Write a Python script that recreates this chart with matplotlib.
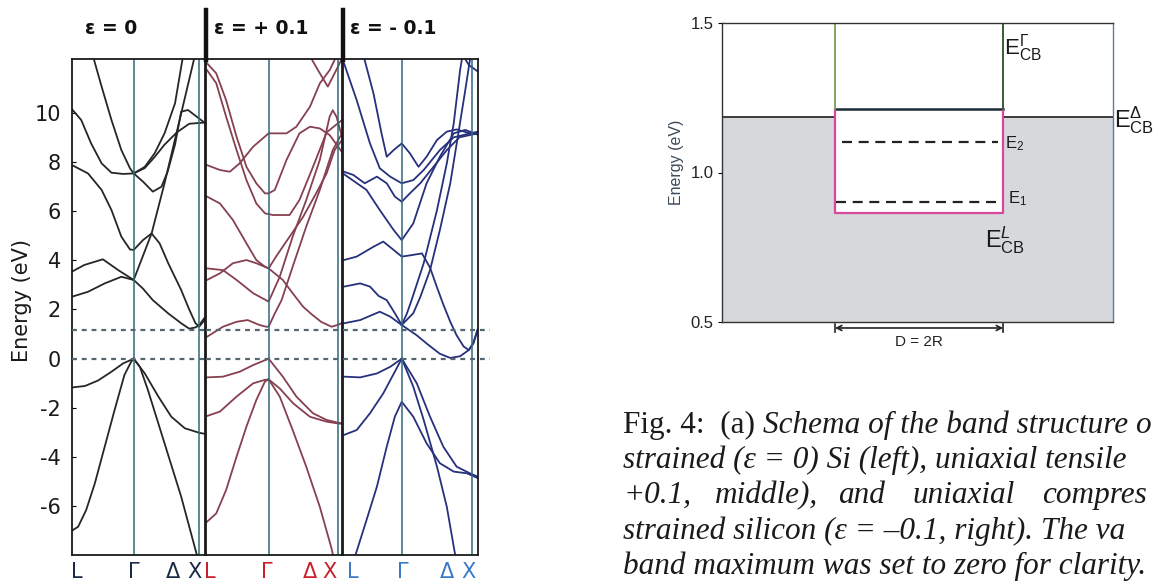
import matplotlib.pyplot as plt
from matplotlib.lines import Line2D

plt.rcParams['mathtext.fontset'] = 'custom'
plt.rcParams['mathtext.rm'] = 'Liberation Sans'
plt.rcParams['mathtext.it'] = 'Liberation Sans:italic'

# ---- band structures (energy in eV), k: L = 0, Gamma = 1, X near 2.1 ----
bands_eps0 = [
    ([0, 0.10, 0.23, 0.37, 0.53, 0.69, 0.85, 0.96, 1.0], [-6.99, -6.83, -6.15, -5.07, -3.58, -2.09, -0.66, -0.12, 0.0]),
    ([0, 0.21, 0.42, 0.64, 0.83, 1.0], [-1.17, -1.11, -0.89, -0.53, -0.19, 0.0]),
    ([1.0, 1.10, 1.23, 1.50, 1.77, 2.02, 2.08], [0.0, -0.33, -1.27, -3.44, -5.61, -7.94, -8.4]),
    ([1.0, 1.18, 1.40, 1.61, 1.83, 2.06, 2.16], [0.0, -0.60, -1.54, -2.36, -2.83, -3.01, -3.06]),
    ([0, 0.26, 0.53, 0.80, 1.0], [2.52, 2.72, 3.06, 3.33, 3.20]),
    ([0, 0.20, 0.50, 0.75, 1.0], [3.54, 3.81, 4.04, 3.60, 3.20]),
    ([1.0, 1.15, 1.31, 1.56, 1.77, 1.90, 2.00, 2.06, 2.16], [3.20, 2.85, 2.38, 1.84, 1.44, 1.22, 1.27, 1.36, 1.70]),
    ([0, 0.26, 0.48, 0.64, 0.80, 0.94, 1.0, 1.15, 1.29, 1.42, 1.56, 1.77, 1.90, 2.00, 2.06, 2.16],
     [7.87, 7.53, 6.86, 6.04, 4.96, 4.44, 4.42, 4.82, 5.09, 4.69, 3.88, 2.79, 2.00, 1.45, 1.30, 1.60]),
    ([1.0, 1.29, 1.50, 1.77, 1.99], [3.20, 5.09, 7.13, 9.97, 12.3]),
    ([0, 0.15, 0.31, 0.48, 0.64, 0.83, 1.0, 1.15, 1.31, 1.45, 1.55, 1.67, 1.77, 1.88, 2.02, 2.16],
     [10.14, 9.70, 8.75, 7.94, 7.56, 7.51, 7.53, 7.20, 6.79, 6.99, 7.60, 8.70, 10.04, 10.11, 9.84, 9.57]),
    ([0.34, 0.48, 0.64, 0.80, 0.94, 1.0, 1.18, 1.34, 1.50, 1.67, 1.80], [12.3, 11.06, 9.70, 8.48, 7.74, 7.53, 7.80, 8.35, 9.16, 10.38, 12.3]),
    ([1.0, 1.18, 1.34, 1.50, 1.70, 1.90, 2.16], [7.53, 7.75, 8.20, 8.70, 9.20, 9.55, 9.60]),
]

bands_tens = [
    ([0, 0.15, 0.31, 0.48, 0.64, 0.80, 0.94, 1.0], [-6.63, -6.29, -5.34, -3.98, -2.76, -1.68, -0.93, -0.84]),
    ([0, 0.26, 0.53, 0.75, 1.0], [-0.76, -0.73, -0.53, -0.26, 0.0]),
    ([0, 0.21, 0.48, 0.75, 0.94, 1.0], [-2.33, -2.15, -1.54, -1.00, -0.86, -0.84]),
    ([1.0, 1.18, 1.39, 1.61, 1.83, 2.02, 2.08], [-0.84, -1.54, -2.90, -4.39, -6.02, -7.71, -8.4]),
    ([1.0, 1.23, 1.45, 1.72, 1.94, 2.12, 2.19], [0.0, -0.73, -1.54, -2.22, -2.49, -2.60, -2.62]),
    ([1.0, 1.18, 1.40, 1.67, 1.94, 2.12, 2.19], [-0.84, -1.21, -1.82, -2.36, -2.56, -2.63, -2.65]),
    ([0, 0.26, 0.48, 0.66, 0.85, 0.96, 1.0, 1.10, 1.21, 1.39, 1.61, 1.83, 2.04, 2.19],
     [0.89, 1.30, 1.50, 1.57, 1.37, 1.30, 1.30, 1.84, 2.38, 3.74, 5.37, 6.86, 8.48, 9.16]),
    ([0, 0.21, 0.42, 0.64, 0.80, 1.0, 1.23, 1.39, 1.56, 1.70, 1.85, 2.02, 2.12, 2.19],
     [3.20, 3.47, 3.88, 4.01, 3.88, 3.67, 3.20, 2.66, 2.11, 1.80, 1.50, 1.30, 1.37, 1.45]),
    ([0, 0.26, 0.48, 0.75, 1.0, 1.18, 1.39, 1.61, 1.83, 1.99, 2.04, 2.10, 2.19],
     [3.67, 3.60, 3.20, 2.66, 2.32, 3.33, 4.96, 6.45, 8.08, 9.84, 10.10, 9.84, 9.02]),
    ([0, 0.15, 0.31, 0.48, 0.64, 0.80, 0.94, 1.0, 1.10, 1.29, 1.50, 1.67, 1.83, 1.99, 2.19],
     [12.01, 11.60, 10.51, 9.02, 7.80, 7.13, 6.72, 6.72, 6.86, 8.08, 9.16, 9.43, 9.36, 9.09, 8.40]),
    ([0, 0.15, 0.31, 0.48, 0.64, 0.80, 0.94, 1.07, 1.34, 1.50, 1.72, 1.94, 2.19],
     [11.73, 11.20, 9.84, 8.48, 7.26, 6.31, 5.91, 5.84, 5.84, 6.45, 7.80, 9.20, 9.70]),
    ([0, 0.21, 0.37, 0.53, 0.75, 1.0, 1.29, 1.45, 1.67, 1.83, 1.99, 2.10],
     [7.87, 7.67, 7.60, 7.94, 8.62, 9.16, 9.16, 9.43, 10.24, 11.19, 11.73, 12.3]),
    ([0, 0.21, 0.42, 0.64, 0.80, 0.94, 1.0, 1.12, 1.34, 1.56, 1.77, 1.94, 2.07, 2.19],
     [6.59, 6.31, 5.64, 4.69, 4.01, 3.74, 3.67, 4.15, 4.96, 5.77, 6.72, 7.53, 8.48, 8.89]),
    ([1.67, 1.80, 1.96, 2.07, 2.19], [12.3, 11.73, 11.06, 11.60, 12.2]),
]

bands_comp = [
    ([0.15, 0.19, 0.39, 0.57, 0.74, 0.88, 1.0, 1.20, 1.43, 1.66, 1.90, 2.13, 2.32],
     [-8.4, -8.05, -6.56, -5.20, -3.58, -2.36, -1.75, -2.36, -3.44, -4.25, -4.59, -4.66, -4.86]),
    ([0, 0.28, 0.57, 0.80, 1.0], [-0.73, -0.76, -0.60, -0.33, 0.0]),
    ([0, 0.22, 0.45, 0.68, 0.88, 1.0], [-3.10, -2.90, -2.22, -1.41, -0.53, 0.0]),
    ([1.0, 1.20, 1.38, 1.61, 1.78, 1.92, 1.96], [0.0, -1.14, -2.49, -4.39, -6.02, -7.91, -8.4]),
    ([1.0, 1.26, 1.49, 1.72, 1.95, 2.18, 2.32], [0.0, -1.00, -2.36, -3.58, -4.39, -4.66, -4.80]),
    ([0, 0.28, 0.62, 0.80, 1.0], [1.44, 1.57, 1.91, 1.71, 1.37]),
    ([1.0, 1.26, 1.44, 1.66, 1.84, 2.01, 2.16, 2.24, 2.32], [1.37, 0.95, 0.60, 0.20, 0.03, 0.10, 0.35, 0.65, 1.25]),
    ([0, 0.28, 0.45, 0.60, 0.74, 0.88, 1.0], [2.93, 3.06, 2.93, 2.55, 2.38, 1.85, 1.37]),
    ([1.0, 1.09, 1.17, 1.38, 1.61, 1.78, 1.90, 2.01, 2.05], [1.37, 1.84, 2.38, 3.88, 6.04, 7.94, 9.57, 11.73, 12.3]),
    ([1.0, 1.20, 1.32, 1.49, 1.66, 1.84, 1.98, 2.10, 2.19], [1.37, 1.85, 2.50, 3.60, 5.23, 7.13, 9.16, 10.92, 12.3]),
    ([0.34, 0.51, 0.65, 0.74, 0.86, 1.0, 1.14, 1.29, 1.43, 1.61, 1.78, 1.95, 2.18, 2.32],
     [12.3, 10.79, 9.16, 8.21, 8.48, 8.75, 8.35, 7.80, 8.21, 8.89, 9.23, 9.32, 9.16, 9.16]),
    ([0, 0.22, 0.45, 0.62, 0.80, 1.0, 1.20, 1.38, 1.66, 1.90, 2.32], [12.01, 10.51, 8.75, 7.74, 7.40, 7.13, 7.26, 7.67, 8.48, 9.00, 9.23]),
    ([0, 0.16, 0.36, 0.57, 0.74, 0.88, 1.0, 1.14, 1.32, 1.55, 1.78, 2.0, 2.32],
     [7.60, 7.47, 7.13, 7.40, 7.13, 6.59, 6.38, 6.72, 7.13, 7.80, 8.48, 9.00, 9.16]),
    ([0, 0.39, 0.62, 0.86, 1.0, 1.20, 1.43, 1.66, 1.90, 2.10, 2.32], [7.50, 6.86, 6.04, 5.23, 4.82, 5.50, 7.13, 8.21, 9.16, 9.30, 9.10]),
    ([0, 0.22, 0.51, 0.68, 0.86, 1.0, 1.17, 1.35, 1.49, 1.61, 1.72, 1.84, 1.95, 2.07, 2.16, 2.24, 2.32],
     [4.01, 4.15, 4.55, 4.76, 4.42, 4.15, 4.21, 4.28, 3.70, 2.90, 2.20, 1.50, 0.95, 0.50, 0.35, 0.62, 1.20]),
    ([2.07, 2.16, 2.32], [12.3, 11.94, 11.67]),
]

panel_titles = ['ε = 0', 'ε = + 0.1', 'ε = - 0.1']
sym_names = ['L', 'Γ', 'Δ', 'X']
sym_pos = [[0.08, 1.0, 1.64, 1.99], [0.05, 0.97, 1.67, 1.99], [0.16, 1.02, 1.79, 2.15]]
k_gamma = 1.0
k_x = [2.06, 2.12, 2.21]
k_lims = [(0.0, 2.156), (-0.016, 2.19), (-0.017, 2.32)]
e_vbm, e_cbm = 0.0, 1.17
e_ticks = [-6, -4, -2, 0, 2, 4, 6, 8, 10]

# ---- quantum dot schema (eV) ----
e_cb_delta = 1.187
e_cb_gamma = 1.211
e_cb_L = 0.864
e_1, e_2 = 0.902, 1.101
well = (0.289, 0.719)

# caption, as far as it is visible in the crop
caption_lines = [
    'strained (ε = 0) Si (left), uniaxial tensile',
    None,
    'strained silicon (ε = –0.1, right). The va',
    'band maximum was set to zero for clarity.',
]
caption_mid = ['+0.1,', 'middle),', 'and', 'uniaxial', 'compres']

W, H = 1153, 587
fig = plt.figure(figsize=(W / 100, H / 100), dpi=100)


def fx(x):
    return x / W


def fy(y):
    return 1 - y / H


band_colors = ['#262626', '#87404f', '#27307c']
label_colors = ['#1c2b45', '#c8202c', '#3a78c8']
panel_px = [(72, 205), (206, 342), (343, 478)]
title_px = [111, 261, 393]
top_px, bot_px = 59.3, 555

for i, bands in enumerate([bands_eps0, bands_tens, bands_comp]):
    x0, x1 = panel_px[i]
    ax = fig.add_axes([fx(x0), fy(bot_px), (x1 - x0) / W, (bot_px - top_px) / H])
    for k, e in bands:
        ax.plot(k, e, color=band_colors[i], lw=1.3)
    ax.axvline(k_gamma, color='#2e6a80', lw=1.1)
    ax.axvline(k_x[i], color='#2e6a80', lw=1.1)
    for ev in (e_vbm, e_cbm):
        ax.axhline(ev, xmin=0, xmax=1.09 if i == 2 else 1, ls=(0, (2.2, 2.2)),
                   color='#56666e', lw=1.6, clip_on=False, zorder=3)
    ax.set_xlim(*k_lims[i])
    ax.set_ylim(-7.98, 12.17)
    ax.set_xticks(sym_pos[i], sym_names)
    ax.tick_params(axis='x', length=0, pad=5, labelsize=15, labelcolor=label_colors[i])
    if i == 0:
        ax.set_yticks(e_ticks, [str(t) for t in e_ticks])
        ax.tick_params(axis='y', direction='in', length=3, pad=8, labelsize=15,
                       labelcolor='#1a1a1a')
    else:
        ax.set_yticks([])
    for s in ax.spines.values():
        s.set_linewidth(1.3)
        s.set_color('#1a1a1a')
    fig.text(fx(title_px[i]), fy(28), panel_titles[i], ha='center', va='center',
             fontsize=13.5, fontweight='bold', color='#111111')

for xs in (205.5, 343):
    fig.add_artist(Line2D([fx(xs), fx(xs)], [fy(10), fy(60)], color='#111111', lw=3.2))

fig.text(fx(22), fy(300), 'Energy (eV)', rotation=90, ha='center', va='center',
         fontsize=15, color='#1a1a1a')

# ---- right schema ----
axr = fig.add_axes([fx(722), fy(322), 391 / W, 299 / H])
axr.set_xlim(0, 1)
axr.set_ylim(0.5, 1.5)
gray = '#d6d8db'
axr.fill_between([0, well[0]], 0.5, e_cb_delta, color=gray, lw=0)
axr.fill_between([well[1], 1], 0.5, e_cb_delta, color=gray, lw=0)
axr.fill_between(well, 0.5, e_cb_L, color=gray, lw=0)
axr.plot([0, well[0]], [e_cb_delta, e_cb_delta], color='#2e2e2e', lw=1.3)
axr.plot([well[1], 1], [e_cb_delta, e_cb_delta], color='#2e2e2e', lw=1.3)
axr.plot(well, [e_cb_gamma, e_cb_gamma], color='#1d2a38', lw=1.8)
axr.plot([well[0], well[0], well[1], well[1]], [e_cb_gamma, e_cb_L, e_cb_L, e_cb_gamma],
         color='#d8489a', lw=1.6)
axr.plot([well[0], well[0]], [e_cb_gamma, 1.5], color='#7f9a55', lw=1.3)
axr.plot([well[1], well[1]], [e_cb_gamma, 1.5], color='#3b5a34', lw=1.4)
axr.plot([well[0] + 0.017, well[1] - 0.012], [e_2, e_2], ls=(0, (4.5, 3)), color='#222222', lw=1.6)
axr.plot([well[0] + 0.003, well[1] - 0.012], [e_1, e_1], ls=(0, (4.5, 3)), color='#222222', lw=1.6)
axr.set_xticks([])
axr.set_yticks([0.5, 1.0, 1.5], ['0.5', '1.0', '1.5'])
axr.tick_params(axis='y', length=3, pad=3, labelsize=12, labelcolor='#222222')
for lab in axr.get_yticklabels():
    lab.set_family('Liberation Sans')
for name, s in axr.spines.items():
    s.set_linewidth(1.0)
    s.set_color('#5a7f9a' if name == 'right' else '#333333')

axr.annotate('', xy=(well[0], 0.48), xytext=(well[1], 0.48), annotation_clip=False,
             arrowprops=dict(arrowstyle='<->', lw=1.2, color='#222222', shrinkA=0, shrinkB=0,
                             mutation_scale=9))
for wx in well:
    axr.plot([wx, wx], [0.466, 0.494], color='#222222', lw=1.2, clip_on=False)
axr.text(sum(well) / 2, 0.433, 'D = 2R', ha='center', va='center', fontsize=11,
         family='Liberation Sans', color='#222222')

fig.text(fx(677), fy(162), 'Energy (eV)', rotation=90, ha='center', va='center',
         fontsize=11.5, family='Liberation Sans', color='#3d4a5a')

lab_kw = dict(ha='left', va='baseline', color='#1a1a1a')
fig.text(fx(1004), fy(55), r'$\mathrm{E}^{\Gamma}_{\mathrm{CB}}$', fontsize=16, **lab_kw)
fig.text(fx(1114), fy(127), r'$\mathrm{E}^{\Delta}_{\mathrm{CB}}$', fontsize=17, **lab_kw)
fig.text(fx(1005), fy(148), r'$\mathrm{E}_{2}$', fontsize=12, **lab_kw)
fig.text(fx(1008), fy(203), r'$\mathrm{E}_{1}$', fontsize=12, **lab_kw)
fig.text(fx(985), fy(247), r'$\mathrm{E}^{L}_{\mathrm{CB}}$', fontsize=17, **lab_kw)

# ---- caption ----
cap_kw = dict(family='Liberation Serif', fontsize=22.5, va='baseline', ha='left', color='#1a1a1a')
base = [433, 468, 503, 538.5, 574]
renderer = fig.canvas.get_renderer()
t1 = fig.text(fx(623), fy(base[0]), 'Fig. 4:  (a)', **cap_kw)
xend = t1.get_window_extent(renderer).x1
fig.text((xend + 8) / W, fy(base[0]), 'Schema of the band structure o', style='italic', **cap_kw)
for j, line in enumerate(caption_lines):
    if line is not None:
        fig.text(fx(623), fy(base[j + 1]), line, style='italic', **cap_kw)
for word, wx in zip(caption_mid, [623, 715, 838, 912, 1042]):
    fig.text(fx(wx), fy(base[2]), word, style='italic', **cap_kw)

fig.savefig('out.png', dpi=100)
